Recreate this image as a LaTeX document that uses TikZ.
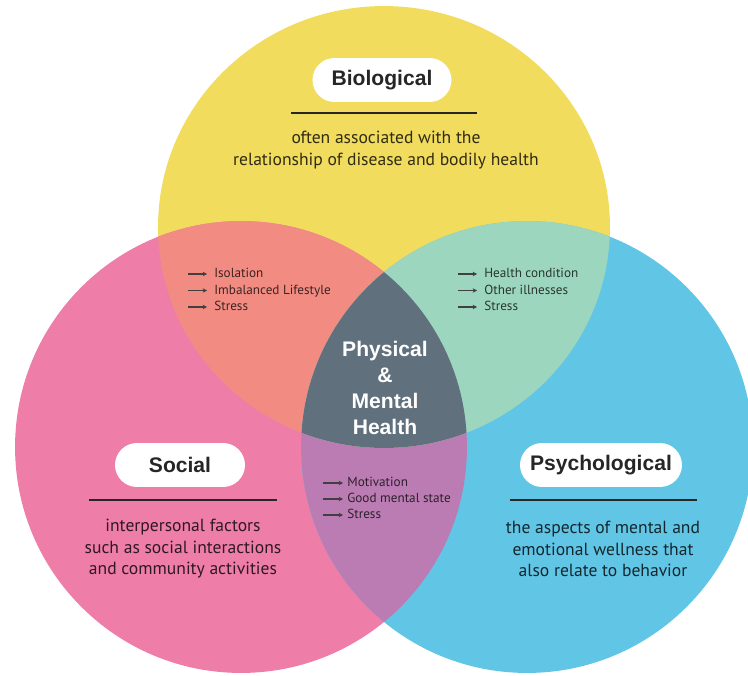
\documentclass[tikz,border=0pt]{standalone}
\usepackage{fontspec}
\setmainfont{PT Sans}
\newfontfamily\headfont{Liberation Sans}
\usetikzlibrary{arrows.meta}

\definecolor{bioyellow}{HTML}{F1DC5E}
\definecolor{socpink}{HTML}{EE7DA8}
\definecolor{psyblue}{HTML}{61C5E6}
\definecolor{biosoc}{HTML}{F28C82}
\definecolor{biopsy}{HTML}{9DD6BE}
\definecolor{socpsy}{HTML}{BA7CB2}
\definecolor{coreslate}{HTML}{60707C}

\begin{document}
\begin{tikzpicture}[x=0.02cm, y=-0.02cm,
    pill/.style={fill=white, rounded corners=0.44cm, minimum height=0.88cm,
      font=\headfont\bfseries\fontsize{12}{14}\selectfont, text=black!85},
    desc/.style={align=center, font=\fontsize{10}{12.2}\selectfont, text=black, text opacity=0.8},
    item/.style={anchor=west, inner sep=0pt, text height=5.5pt, text depth=1.5pt,
      font=\fontsize{7.5}{9}\selectfont, text=black, text opacity=0.75},
    bullet/.style={-{Stealth[length=2.5pt, width=2.6pt]}, line width=0.6pt, black!75},
    rule/.style={line width=1.7pt, black!85}]
  \useasboundingbox (0,0) rectangle (748,676);
  \coordinate (cbio) at (384,227);
  \coordinate (csoc) at (241,447);
  \coordinate (cpsy) at (527,447);
  \fill[bioyellow] (cbio) ellipse[x radius=4.52cm, y radius=4.42cm];
  \fill[socpink] (csoc) circle[radius=4.52cm];
  \fill[psyblue] (cpsy) circle[radius=4.52cm];
  \begin{scope}
    \clip (csoc) circle[radius=4.52cm];
    \fill[socpsy] (cpsy) circle[radius=4.52cm];
  \end{scope}
  \begin{scope}
    \clip (cbio) ellipse[x radius=4.52cm, y radius=4.42cm];
    \fill[biosoc] (csoc) circle[radius=4.52cm];
    \fill[biopsy] (cpsy) circle[radius=4.52cm];
    \clip (csoc) circle[radius=4.52cm];
    \fill[coreslate] (cpsy) circle[radius=4.52cm];
  \end{scope}

  \node[pill, minimum width=2.78cm] (bio) at (382,80) {Biological};
  \node[pill, minimum width=2.6cm] (soc) at (180,465) {Social};
  \node[pill, minimum width=3.24cm] (psy) at (601,465) {Psychological};
  \draw[rule] (291,113) -- (477,113);
  \draw[rule] (89,500) -- (277,500);
  \draw[rule] (510,500) -- (697,500);
  \node[desc] (biodesc) at (386,150) {often associated with the\\relationship of disease and bodily health};
  \node[desc] (socdesc) at (183,549) {interpersonal factors\\such as social interactions\\and community activities};
  \node[desc] (psydesc) at (603,549) {the aspects of mental and\\emotional wellness that\\also relate to behavior};

  \node[align=center, text=white, font=\headfont\bfseries\fontsize{12}{14.7}\selectfont] (core) at (385,388)
    {Physical\\\&\\Mental\\Health};

  \foreach \t [count=\i] in {Isolation, Imbalanced Lifestyle, Stress}
    \node[item] (bs\i) at (214,{257.5+16.5*\i}) {\t};
  \foreach \t [count=\i] in {Health condition, Other illnesses, Stress}
    \node[item] (bp\i) at (484,{257.5+16.5*\i}) {\t};
  \foreach \t [count=\i] in {Motivation, Good mental state, Stress}
    \node[item] (sp\i) at (347,{467+16*\i}) {\t};
  \foreach \i in {1,2,3} {
    \draw[bullet] ([xshift=-0.52cm]bs\i.west) -- ([xshift=-0.14cm]bs\i.west);
    \draw[bullet] ([xshift=-0.52cm]bp\i.west) -- ([xshift=-0.14cm]bp\i.west);
    \draw[bullet] ([xshift=-0.48cm]sp\i.west) -- ([xshift=-0.08cm]sp\i.west);
  }
\end{tikzpicture}
\end{document}
